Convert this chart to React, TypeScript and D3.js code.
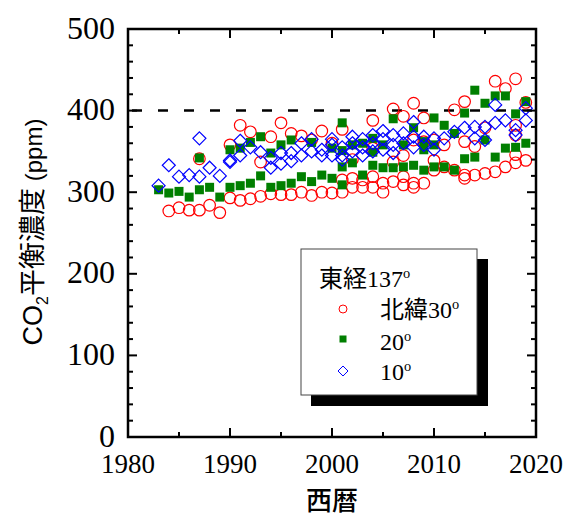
import React from "react";
import * as d3 from "d3";

// 北緯30° (red circles)
const red30Years = [
  1984, 1985, 1986, 1987, 1987, 1988, 1989, 1990, 1990, 1991, 1991, 1992, 1992,
  1993, 1993, 1994, 1994, 1995, 1995, 1996, 1996, 1997, 1997, 1998, 1998, 1999,
  1999, 2000, 2000, 2001, 2001, 2001, 2002, 2002, 2002, 2003, 2003, 2004, 2004,
  2004, 2004, 2005, 2005, 2006, 2006, 2006, 2007, 2007, 2007, 2007, 2008, 2008,
  2008, 2008, 2009, 2009, 2009, 2010, 2010, 2010, 2011, 2011, 2012, 2012, 2013,
  2013, 2013, 2013, 2014, 2014, 2015, 2015, 2016, 2016, 2017, 2017, 2018, 2018,
  2018, 2018, 2018, 2019, 2019,
];
const red30Values = [
  277, 281, 278, 278, 341, 284, 275, 293, 358, 290, 382, 292, 374,
  295, 337, 298, 368, 297, 385, 297, 372, 300, 369, 296, 364, 300,
  375, 299, 360, 300, 377, 315, 306, 317, 340, 315, 306, 319, 306,
  388, 354, 311, 300, 313, 402, 337, 309, 319, 393, 345, 306, 311,
  409, 364, 311, 391, 362, 339, 327, 364, 331, 358, 327, 401, 321,
  317, 411, 362, 321, 356, 323, 379, 325, 436, 331, 427, 336, 346,
  439, 382, 370, 339, 410,
];

// 20° (green squares)
const green20Years = [
  1983, 1984, 1985, 1986, 1987, 1987, 1988, 1989, 1990, 1990, 1991, 1991, 1992,
  1992, 1993, 1993, 1994, 1994, 1995, 1995, 1996, 1996, 1997, 1998, 1998, 1999,
  2000, 2000, 2001, 2001, 2001, 2001, 2002, 2002, 2003, 2003, 2004, 2004, 2004,
  2005, 2005, 2006, 2006, 2007, 2007, 2008, 2008, 2009, 2009, 2009, 2010, 2010,
  2010, 2011, 2011, 2012, 2012, 2013, 2013, 2014, 2014, 2015, 2015, 2016, 2016,
  2017, 2017, 2018, 2018, 2019, 2019,
];
const green20Values = [
  303, 299, 301, 294, 303, 342, 306, 294, 306, 352, 308, 354, 311,
  361, 320, 368, 306, 348, 308, 358, 311, 364, 319, 313, 361, 321,
  317, 354, 331, 309, 385, 351, 336, 358, 321, 360, 333, 366, 349,
  330, 358, 330, 390, 331, 358, 333, 379, 327, 362, 352, 331, 391,
  358, 331, 382, 327, 372, 341, 397, 343, 425, 364, 409, 343, 418,
  354, 418, 355, 396, 360, 411,
];

// 10° (blue diamonds)
const blue10Years = [
  1983, 1984, 1985, 1986, 1987, 1987, 1988, 1989, 1990, 1990, 1991, 1991, 1992,
  1993, 1994, 1994, 1995, 1995, 1996, 1996, 1997, 1997, 1998, 1998, 1999, 1999,
  2000, 2000, 2000, 2001, 2001, 2001, 2002, 2002, 2002, 2003, 2003, 2003, 2004,
  2004, 2004, 2005, 2005, 2005, 2006, 2006, 2006, 2007, 2007, 2008, 2008, 2008,
  2009, 2009, 2010, 2010, 2011, 2012, 2013, 2014, 2014, 2015, 2015, 2016, 2016,
  2017, 2018, 2018, 2019, 2019,
];
const blue10Values = [
  308, 333, 319, 321, 366, 319, 330, 320, 337, 339, 363, 345, 355,
  349, 330, 342, 348, 335, 348, 338, 345, 360, 350, 365, 352, 345,
  345, 358, 365, 345, 355, 340, 350, 360, 368, 355, 365, 345, 360,
  370, 350, 352, 365, 375, 358, 370, 348, 360, 372, 355, 368, 386,
  358, 368, 366, 352, 366, 374, 379, 380, 366, 380, 364, 385, 407,
  388, 376, 370, 388, 403,
];

const xTicks = [1980, 1990, 2000, 2010, 2020];
const yTicks = [0, 100, 200, 300, 400, 500];
const referenceLevel = 400;

const W = 566;
const H = 519;
const m = { left: 128, right: 536, top: 29, bottom: 437 };

const serif = "Liberation Serif, Times New Roman, DejaVu Serif, serif";
const cjk = "Noto Sans CJK JP, sans-serif";

const Deg = ({ size }: { size: number }) => (
  <tspan fontFamily={serif} fontSize={size * 0.6} dy={-size * 0.38}>o</tspan>
);

export default function App() {
  const x = d3.scaleLinear().domain([1980, 2020]).range([m.left, m.right]);
  const y = d3.scaleLinear().domain([0, 500]).range([m.bottom, m.top]);

  const xMinor = d3.range(1980, 2021, 5);
  const yMinor = d3.range(0, 501, 20);
  const diamond = (cx: number, cy: number, r: number) =>
    `M${cx},${cy - r}L${cx + r},${cy}L${cx},${cy + r}L${cx - r},${cy}Z`;

  return (
    <svg
      width={W}
      height={H}
      style={{ position: "absolute", left: 0, top: 0, background: "#fff" }}
    >
      {/* reference line at 400 ppm */}
      <line
        x1={m.left}
        x2={m.right}
        y1={y(referenceLevel)}
        y2={y(referenceLevel)}
        stroke="#000"
        strokeWidth={2.5}
        strokeDasharray="10,16"
        strokeDashoffset={-4}
      />

      {/* data */}
      {red30Years.map((yr, i) => (
        <circle
          key={"r" + i}
          cx={x(yr)}
          cy={y(red30Values[i])}
          r={5.8}
          fill="none"
          stroke="#ff0000"
          strokeWidth={1.2}
        />
      ))}
      {green20Years.map((yr, i) => (
        <rect
          key={"g" + i}
          x={x(yr) - 4.5}
          y={y(green20Values[i]) - 4.5}
          width={9}
          height={9}
          fill="#007f00"
        />
      ))}
      {blue10Years.map((yr, i) => (
        <path
          key={"b" + i}
          d={diamond(x(yr), y(blue10Values[i]), 6.5)}
          fill="none"
          stroke="#0000ff"
          strokeWidth={1.2}
        />
      ))}

      {/* frame and ticks */}
      <rect
        x={m.left}
        y={m.top}
        width={m.right - m.left}
        height={m.bottom - m.top}
        fill="none"
        stroke="#000"
        strokeWidth={2.5}
      />
      {xMinor.map((t) => {
        const len = t % 10 === 0 ? 9 : 5;
        return (
          <g key={"xt" + t} stroke="#000" strokeWidth={2}>
            <line x1={x(t)} x2={x(t)} y1={m.bottom} y2={m.bottom - len} />
            <line x1={x(t)} x2={x(t)} y1={m.top} y2={m.top + len} />
          </g>
        );
      })}
      {yMinor.map((t) => {
        const len = t % 100 === 0 ? 9 : 5;
        return (
          <g key={"yt" + t} stroke="#000" strokeWidth={2}>
            <line x1={m.left} x2={m.left + len} y1={y(t)} y2={y(t)} />
            <line x1={m.right} x2={m.right - len} y1={y(t)} y2={y(t)} />
          </g>
        );
      })}

      {/* tick labels */}
      {xTicks.map((t) => (
        <text
          key={"xl" + t}
          x={x(t)}
          y={473}
          textAnchor="middle"
          fontFamily={serif}
          fontSize={27}
        >
          {t}
        </text>
      ))}
      {yTicks.map((t) => (
        <text
          key={"yl" + t}
          x={115}
          y={y(t)}
          dy="0.3em"
          textAnchor="end"
          fontFamily={serif}
          fontSize={32}
        >
          {t}
        </text>
      ))}

      {/* axis titles */}
      <text
        x={(m.left + m.right) / 2}
        y={510}
        textAnchor="middle"
        fontFamily={cjk}
        fontWeight={500}
        fontSize={26}
      >
        西暦
      </text>
      <text
        transform={`translate(42,${232}) rotate(-90)`}
        textAnchor="middle"
        fontFamily={cjk}
        fontSize={27}
      >
        <tspan fontFamily="Liberation Sans Narrow, Liberation Sans, sans-serif">CO</tspan>
        <tspan fontFamily="Liberation Sans, sans-serif" fontSize={16} dy={6}>2</tspan>
        <tspan dy={-6}>平衡濃度</tspan>
        <tspan fontFamily="Liberation Sans, sans-serif" fontSize={24}> (ppm)</tspan>
      </text>

      {/* legend */}
      <rect x={311} y={259} width={177} height={147} fill="#000" />
      <rect x={301} y={249} width={176} height={146} fill="#fff" stroke="#444" strokeWidth={1} />
      <text x={319} y={287} fontSize={24}>
        <tspan fontFamily={cjk}>東経</tspan>
        <tspan fontFamily={serif}>137</tspan>
        <Deg size={24} />
      </text>
      <circle cx={343} cy={309} r={4} fill="none" stroke="#ff0000" strokeWidth={1} />
      <text x={380} y={318} fontSize={24}>
        <tspan fontFamily={cjk}>北緯</tspan>
        <tspan fontFamily={serif}>30</tspan>
        <Deg size={24} />
      </text>
      <rect x={339.5} y={335.5} width={7} height={7} fill="#007f00" />
      <text x={380} y={350} fontFamily={serif} fontSize={24}>
        20<Deg size={24} />
      </text>
      <path d={diamond(343, 371, 5)} fill="none" stroke="#0000ff" strokeWidth={1} />
      <text x={380} y={380} fontFamily={serif} fontSize={24}>
        10<Deg size={24} />
      </text>
    </svg>
  );
}
